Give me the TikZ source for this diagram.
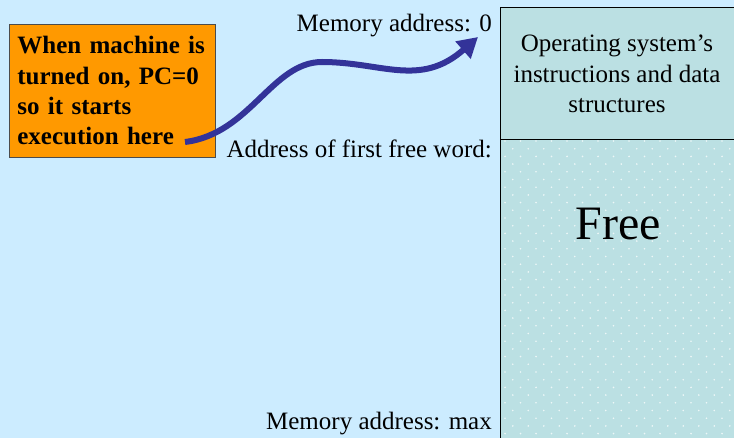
\documentclass[tikz,border=0pt]{standalone}
\usepackage{fontspec}
\setmainfont{Liberation Serif}
\newfontface\noteface{LiberationSerif-Bold.ttf}
\usetikzlibrary{arrows.meta}
\definecolor{slidebg}{HTML}{CCECFF}
\definecolor{memfill}{HTML}{BBE0E3}
\definecolor{notefill}{HTML}{FF9900}
\definecolor{arrowblue}{HTML}{333399}
\tikzset{
  label text/.style={font=\fontsize{25}{30}\selectfont, inner sep=0pt, anchor=base east},
  memblock/.style={draw=black, line width=1.2pt, fill=memfill, anchor=north west, inner sep=0pt},
  notebox/.style={draw=black!70, line width=0.8pt, fill=notefill, anchor=north west,
    minimum width=206pt, minimum height=133pt, text width=190pt, align=left,
    inner xsep=8pt, font=\noteface\fontsize{25}{30.3}\selectfont},
  bigarrow/.style={draw=arrowblue, line width=6pt, -{Triangle[length=20pt,width=22pt]}},
}
\begin{document}
\begin{tikzpicture}[x=1pt,y=-1pt]
  % slide background
  \path[use as bounding box, fill=slidebg] (0,0) rectangle (734,438);
  \clip (0,0) rectangle (734,438);

  % memory column: free area with dotted texture
  \node[memblock, minimum width=245pt, minimum height=310pt] (free) at (500,139) {};
  \foreach \r in {0,...,38} {
    \pgfmathsetmacro{\yy}{141+7.7*\r}
    \pgfmathsetmacro{\xo}{505+7.75*mod(\r,2)}
    \foreach \k in {0,...,15} {
      \fill[white, opacity=0.75] ({\xo+15.5*\k},\yy) circle (0.9pt);
    }
  }
  \node[memblock, minimum width=245pt, minimum height=132pt] (os) at (500,7) {};
  \node[font=\fontsize{25}{30.5}\selectfont, align=center, inner sep=0pt] (ostext) at (617,74)
    {Operating system’s\\instructions and data\\structures};
  \node[font=\fontsize{48}{50}\selectfont, inner sep=0pt, anchor=base] (freetext) at (618,240) {Free};

  % address labels
  \node[label text] (addr0) at (492,32) {Memory address: 0};
  \node[label text] (addrfree) at (492,158) {Address of first free word:};
  \node[label text] (addrmax) at (492,429) {Memory address: max};

  % note box and pointer
  \node[notebox] (note) at (9,24) {When machine is\\turned on, PC=0\\so it starts\\execution here};
  \coordinate (start) at (185,142);
  \coordinate (crest) at (322,62);
  \coordinate (tip) at (478,37);
  \draw[bigarrow] (start) .. controls (250,134) and (272,62) .. (crest)
                          .. controls (382,62) and (420,88) .. (tip);
\end{tikzpicture}
\end{document}
